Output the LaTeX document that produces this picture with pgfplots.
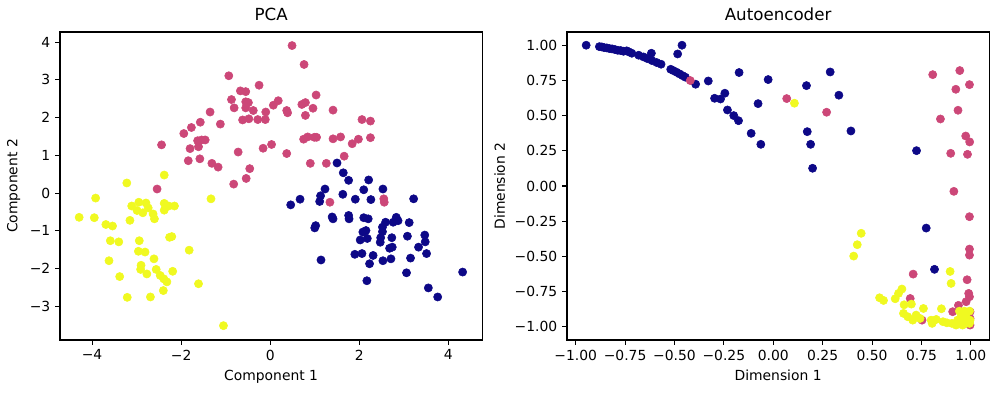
\documentclass[border=0pt]{standalone}
\usepackage{pgfplots}
\pgfplotsset{compat=1.18}
\usepackage{fontspec}
\setmainfont{DejaVu Sans}
\definecolor{c0}{HTML}{0D0887}
\definecolor{c1}{HTML}{CC4778}
\definecolor{c2}{HTML}{F0F921}
\pgfplotsset{
  myax/.style={
    scale only axis, width=304pt, height=221.76pt,
    axis line style={line width=0.8pt},
    tick style={line width=0.8pt, black},
    tick align=outside, major tick length=3.5pt,
    xtick pos=bottom, ytick pos=left,
    tick label style={font=\fontsize{10}{12}\selectfont},
    label style={font=\fontsize{10}{12}\selectfont},
    title style={font=\fontsize{12}{14}\selectfont, yshift=-1.5pt},
    clip=false,
  },
  s0/.style={only marks, mark=*, mark size=2.95pt, color=c0, mark options={draw=none, fill=c0}},
  s1/.style={only marks, mark=*, mark size=2.95pt, color=c1, mark options={draw=none, fill=c1}},
  s2/.style={only marks, mark=*, mark size=2.95pt, color=c2, mark options={draw=none, fill=c2}},
}
\begin{document}
\begin{tikzpicture}
\useasboundingbox (0,0) rectangle (719.28pt,282.96pt);
\begin{axis}[myax, at={(43.2pt,38.16pt)}, anchor=south west,
  title={PCA}, xlabel={Component 1}, ylabel={Component 2},
  xmin=-4.72, xmax=4.76, ymin=-3.89, ymax=4.27,
  xtick={-4,-2,0,2,4}, xticklabels={−4,−2,0,2,4},
  ytick={-3,-2,-1,0,1,2,3,4}, yticklabels={−3,−2,−1,0,1,2,3,4}]
\addplot[s0] coordinates {
(1.50,0.80) (1.64,0.54) (1.76,0.34) (2.21,0.35) (1.23,0.11) (2.10,0.09) (2.53,0.11) (1.63,-0.03)
(1.13,-0.07) (1.11,-0.22) (0.67,-0.16) (0.46,-0.31) (1.91,-0.16) (2.26,-0.17) (3.22,-0.15)
(1.39,-0.63) (1.41,-0.68) (1.76,-0.59) (1.77,-0.68) (2.10,-0.65) (2.20,-0.68) (2.59,-0.77)
(2.76,-0.77) (2.83,-0.64) (2.87,-0.73) (3.12,-0.78) (1.02,-0.86) (1.00,-0.92) (2.52,-0.90)
(2.52,-1.02) (2.08,-1.03) (2.15,-0.99) (2.02,-1.24) (2.18,-1.20) (2.48,-1.18) (2.47,-1.30)
(2.73,-1.18) (3.08,-1.14) (3.47,-1.11) (3.48,-1.29) (2.68,-1.46) (2.74,-1.43) (3.33,-1.43)
(1.90,-1.62) (2.06,-1.60) (2.31,-1.65) (3.51,-1.60) (1.14,-1.77) (2.23,-1.87) (2.53,-1.79)
(2.71,-1.74) (3.15,-1.72) (4.32,-2.09) (3.06,-2.11) (2.17,-2.32) (3.55,-2.51) (3.76,-2.75)
};
\addplot[s1] coordinates {
(0.49,3.91) (0.76,3.41) (-0.93,3.11) (-0.25,2.86) (-0.67,2.71) (-0.55,2.69) (1.03,2.60)
(-0.87,2.48) (-0.55,2.42) (-0.49,2.40) (0.18,2.45) (0.07,2.33) (0.79,2.40) (0.71,2.35)
(-0.81,2.26) (-0.55,2.26) (-0.38,2.19) (-0.10,2.15) (0.37,2.19) (0.39,2.13) (0.96,2.25)
(1.41,2.20) (-1.35,2.15) (0.79,2.06) (-0.62,1.94) (-0.48,1.97) (-0.28,1.95) (-0.11,1.95)
(2.06,1.95) (2.25,1.91) (-1.57,1.88) (-1.12,1.83) (-1.77,1.74) (-1.94,1.58) (-1.63,1.39)
(-1.54,1.41) (-1.46,1.41) (-1.61,1.23) (0.75,1.43) (0.84,1.49) (0.99,1.48) (1.04,1.48)
(1.41,1.44) (1.58,1.49) (1.98,1.43) (1.84,1.31) (2.25,1.47) (-2.44,1.28) (-1.80,1.18)
(-0.16,1.19) (0.03,1.29) (-0.72,1.09) (0.37,1.05) (1.66,0.98) (-1.84,0.86) (-1.58,0.91)
(-1.31,0.79) (-1.17,0.69) (0.90,0.79) (1.26,0.79) (-0.46,0.65) (-0.54,0.39) (-0.82,0.24)
(-2.54,0.11) (1.34,-0.24) (2.55,-0.15) (2.56,-0.24)
};
\addplot[s2] coordinates {
(-2.38,0.48) (-3.22,0.27) (-3.92,-0.13) (-1.33,-0.15) (-4.29,-0.64) (-3.95,-0.65) (-3.69,-0.83)
(-3.54,-0.87) (-3.11,-0.34) (-2.95,-0.24) (-2.79,-0.26) (-2.99,-0.46) (-2.86,-0.52) (-2.74,-0.39)
(-2.63,-0.55) (-2.60,-0.68) (-2.38,-0.27) (-2.38,-0.45) (-2.28,-0.34) (-2.15,-0.34) (-3.15,-0.72)
(-3.59,-1.26) (-3.40,-1.29) (-2.94,-1.26) (-2.26,-1.17) (-2.21,-1.15) (-2.96,-1.54) (-2.81,-1.56)
(-1.82,-1.51) (-3.62,-1.79) (-2.61,-1.74) (-2.90,-1.91) (-2.91,-2.02) (-2.77,-2.14) (-2.56,-2.02)
(-2.47,-2.18) (-2.39,-2.27) (-2.32,-2.35) (-2.19,-2.07) (-3.38,-2.21) (-1.61,-2.40) (-2.40,-2.58)
(-3.21,-2.76) (-2.69,-2.75) (-1.05,-3.51)
};
\end{axis}
\begin{axis}[myax, at={(408.24pt,38.16pt)}, anchor=south west,
  title={Autoencoder}, xlabel={Dimension 1}, ylabel={Dimension 2},
  xmin=-1.044, xmax=1.093, ymin=-1.094, ymax=1.094,
  xtick={-1,-0.75,-0.5,-0.25,0,0.25,0.5,0.75,1},
  xticklabels={−1.00,−0.75,−0.50,−0.25,0.00,0.25,0.50,0.75,1.00},
  ytick={-1,-0.75,-0.5,-0.25,0,0.25,0.5,0.75,1},
  yticklabels={−1.00,−0.75,−0.50,−0.25,0.00,0.25,0.50,0.75,1.00}]
\addplot[s0] coordinates {
(-0.947,1.0) (-0.880,0.990) (-0.868,0.988) (-0.856,0.983) (-0.843,0.981) (-0.829,0.976)
(-0.816,0.974) (-0.801,0.969) (-0.787,0.964) (-0.772,0.962) (-0.758,0.957) (-0.742,0.960)
(-0.731,0.953) (-0.716,0.943) (-0.681,0.929) (-0.657,0.917) (-0.637,0.905) (-0.617,0.943)
(-0.614,0.891) (-0.590,0.877) (-0.568,0.865) (-0.519,0.829) (-0.506,0.820) (-0.489,0.808)
(-0.474,0.796) (-0.459,0.784) (-0.445,0.773) (-0.484,0.938) (-0.462,1.0) (-0.393,0.723)
(-0.329,0.746) (-0.173,0.806) (-0.297,0.623) (-0.267,0.618) (-0.245,0.659) (-0.232,0.540)
(-0.200,0.500) (-0.176,0.464) (-0.112,0.374) (-0.077,0.585) (-0.063,0.296) (-0.026,0.756)
(0.168,0.713) (0.172,0.386) (0.189,0.296) (0.199,0.126) (0.288,0.810) (0.332,0.645)
(0.393,0.391) (0.725,0.251) (0.774,-0.299) (0.816,-0.592)
};
\addplot[s1] coordinates {
(-0.420,0.749) (0.068,0.621) (0.270,0.524) (0.807,0.791) (0.944,0.820) (0.993,0.720)
(0.924,0.687) (0.935,0.538) (0.846,0.476) (0.974,0.355) (0.994,0.313) (0.898,0.232)
(0.983,0.225) (0.914,-0.038) (0.993,-0.218) (0.993,-0.448) (0.993,-0.491) (0.708,-0.626)
(0.981,-0.666) (0.989,-0.763) (0.993,-0.787) (0.976,-0.822) (0.693,-0.799) (0.937,-0.848)
(0.908,-0.893) (0.996,-0.893) (0.996,-0.941) (0.753,-0.953) (0.996,-0.988) (0.976,-0.953)
};
\addplot[s2] coordinates {
(0.107,0.588) (0.445,-0.336) (0.425,-0.417) (0.407,-0.498) (0.895,-0.607) (0.900,-0.692)
(0.651,-0.732) (0.634,-0.763) (0.617,-0.801) (0.538,-0.794) (0.558,-0.813) (0.662,-0.844)
(0.699,-0.839) (0.760,-0.870) (0.851,-0.872) (0.659,-0.905) (0.681,-0.929) (0.706,-0.953)
(0.723,-0.917) (0.743,-0.941) (0.799,-0.953) (0.804,-0.976) (0.825,-0.948) (0.859,-0.964)
(0.879,-0.972) (0.904,-0.976) (0.925,-0.988) (0.942,-0.889) (0.967,-0.889) (0.993,-0.889)
(0.950,-0.929) (0.976,-0.929) (0.950,-0.964) (0.976,-0.976) (0.993,-0.976) (0.958,-0.988)
(0.933,-0.953) (0.996,-0.953) (0.967,-0.953)
};
\end{axis}
\end{tikzpicture}
\end{document}
